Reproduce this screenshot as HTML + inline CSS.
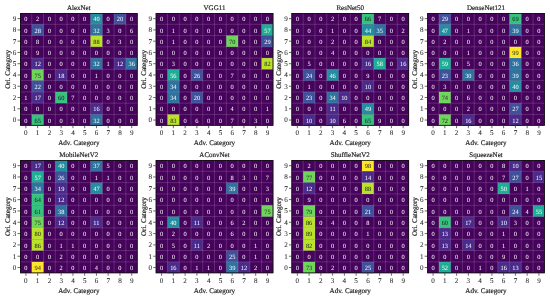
<!DOCTYPE html>
<html><head><meta charset="utf-8"><style>
html,body{margin:0;padding:0;background:#fff;overflow:hidden;}
svg{display:block;will-change:transform;text-rendering:geometricPrecision;font-family:"Liberation Serif",serif;}
</style></head><body>
<svg width="550" height="299" viewBox="0 0 550 299">
<rect width="550" height="299" fill="#fff"/>
<g><rect x="20" y="13" width="117.6" height="112.7" fill="#46035b"/>
<rect x="90.56" y="13" width="11.76" height="11.27" fill="#238e9e"/>
<rect x="114.08" y="13" width="11.76" height="11.27" fill="#3f519a"/>
<rect x="31.76" y="24.27" width="11.76" height="11.27" fill="#3f519a"/>
<rect x="90.56" y="24.27" width="11.76" height="11.27" fill="#2e729e"/>
<rect x="90.56" y="35.54" width="11.76" height="11.27" fill="#bae22a"/>
<rect x="31.76" y="58.08" width="11.76" height="11.27" fill="#4a2a8a"/>
<rect x="90.56" y="58.08" width="11.76" height="11.27" fill="#2e729e"/>
<rect x="114.08" y="58.08" width="11.76" height="11.27" fill="#4a2a8a"/>
<rect x="125.84" y="58.08" width="11.76" height="11.27" fill="#2e729e"/>
<rect x="31.76" y="69.35" width="11.76" height="11.27" fill="#6dd65a"/>
<rect x="55.28" y="69.35" width="11.76" height="11.27" fill="#4a2a8a"/>
<rect x="31.76" y="80.62" width="11.76" height="11.27" fill="#3f519a"/>
<rect x="31.76" y="91.89" width="11.76" height="11.27" fill="#4a2a8a"/>
<rect x="55.28" y="91.89" width="11.76" height="11.27" fill="#34c27d"/>
<rect x="90.56" y="103.16" width="11.76" height="11.27" fill="#4a2a8a"/>
<rect x="31.76" y="114.43" width="11.76" height="11.27" fill="#34c27d"/>
<rect x="90.56" y="114.43" width="11.76" height="11.27" fill="#2e729e"/></g>
<g stroke="rgba(255,255,255,0.2)" stroke-width="0.75"><line x1="31.76" y1="13" x2="31.76" y2="125.7"/>
<line x1="20" y1="24.27" x2="137.6" y2="24.27"/>
<line x1="43.52" y1="13" x2="43.52" y2="125.7"/>
<line x1="20" y1="35.54" x2="137.6" y2="35.54"/>
<line x1="55.28" y1="13" x2="55.28" y2="125.7"/>
<line x1="20" y1="46.81" x2="137.6" y2="46.81"/>
<line x1="67.04" y1="13" x2="67.04" y2="125.7"/>
<line x1="20" y1="58.08" x2="137.6" y2="58.08"/>
<line x1="78.8" y1="13" x2="78.8" y2="125.7"/>
<line x1="20" y1="69.35" x2="137.6" y2="69.35"/>
<line x1="90.56" y1="13" x2="90.56" y2="125.7"/>
<line x1="20" y1="80.62" x2="137.6" y2="80.62"/>
<line x1="102.32" y1="13" x2="102.32" y2="125.7"/>
<line x1="20" y1="91.89" x2="137.6" y2="91.89"/>
<line x1="114.08" y1="13" x2="114.08" y2="125.7"/>
<line x1="20" y1="103.16" x2="137.6" y2="103.16"/>
<line x1="125.84" y1="13" x2="125.84" y2="125.7"/>
<line x1="20" y1="114.43" x2="137.6" y2="114.43"/></g>
<rect x="20.4" y="13.4" width="116.8" height="111.9" fill="none" stroke="#111" stroke-width="0.8"/>
<g font-size="6.4" text-anchor="middle"><text x="25.88" y="21.31" fill="#fff">0</text><text x="37.64" y="21.31" fill="#fff">2</text><text x="49.4" y="21.31" fill="#fff">0</text><text x="61.16" y="21.31" fill="#fff">0</text><text x="72.92" y="21.31" fill="#fff">0</text><text x="84.68" y="21.31" fill="#fff">0</text><text x="96.44" y="21.31" fill="#fff">40</text><text x="108.2" y="21.31" fill="#fff">0</text><text x="119.96" y="21.31" fill="#fff">20</text><text x="131.72" y="21.31" fill="#fff">0</text><text x="25.88" y="32.58" fill="#fff">0</text><text x="37.64" y="32.58" fill="#fff">28</text><text x="49.4" y="32.58" fill="#fff">0</text><text x="61.16" y="32.58" fill="#fff">0</text><text x="72.92" y="32.58" fill="#fff">0</text><text x="84.68" y="32.58" fill="#fff">0</text><text x="96.44" y="32.58" fill="#fff">32</text><text x="108.2" y="32.58" fill="#fff">3</text><text x="119.96" y="32.58" fill="#fff">0</text><text x="131.72" y="32.58" fill="#fff">6</text><text x="25.88" y="43.85" fill="#fff">0</text><text x="37.64" y="43.85" fill="#fff">8</text><text x="49.4" y="43.85" fill="#fff">0</text><text x="61.16" y="43.85" fill="#fff">0</text><text x="72.92" y="43.85" fill="#fff">0</text><text x="84.68" y="43.85" fill="#fff">0</text><text x="96.44" y="43.85" fill="#222">88</text><text x="108.2" y="43.85" fill="#fff">0</text><text x="119.96" y="43.85" fill="#fff">3</text><text x="131.72" y="43.85" fill="#fff">0</text><text x="25.88" y="55.12" fill="#fff">0</text><text x="37.64" y="55.12" fill="#fff">9</text><text x="49.4" y="55.12" fill="#fff">0</text><text x="61.16" y="55.12" fill="#fff">0</text><text x="72.92" y="55.12" fill="#fff">0</text><text x="84.68" y="55.12" fill="#fff">0</text><text x="96.44" y="55.12" fill="#fff">0</text><text x="108.2" y="55.12" fill="#fff">0</text><text x="119.96" y="55.12" fill="#fff">0</text><text x="131.72" y="55.12" fill="#fff">0</text><text x="25.88" y="66.39" fill="#fff">0</text><text x="37.64" y="66.39" fill="#fff">12</text><text x="49.4" y="66.39" fill="#fff">0</text><text x="61.16" y="66.39" fill="#fff">0</text><text x="72.92" y="66.39" fill="#fff">0</text><text x="84.68" y="66.39" fill="#fff">0</text><text x="96.44" y="66.39" fill="#fff">32</text><text x="108.2" y="66.39" fill="#fff">1</text><text x="119.96" y="66.39" fill="#fff">12</text><text x="131.72" y="66.39" fill="#fff">36</text><text x="25.88" y="77.66" fill="#fff">0</text><text x="37.64" y="77.66" fill="#222">75</text><text x="49.4" y="77.66" fill="#fff">0</text><text x="61.16" y="77.66" fill="#fff">18</text><text x="72.92" y="77.66" fill="#fff">0</text><text x="84.68" y="77.66" fill="#fff">0</text><text x="96.44" y="77.66" fill="#fff">1</text><text x="108.2" y="77.66" fill="#fff">0</text><text x="119.96" y="77.66" fill="#fff">0</text><text x="131.72" y="77.66" fill="#fff">0</text><text x="25.88" y="88.93" fill="#fff">0</text><text x="37.64" y="88.93" fill="#fff">22</text><text x="49.4" y="88.93" fill="#fff">0</text><text x="61.16" y="88.93" fill="#fff">0</text><text x="72.92" y="88.93" fill="#fff">0</text><text x="84.68" y="88.93" fill="#fff">0</text><text x="96.44" y="88.93" fill="#fff">0</text><text x="108.2" y="88.93" fill="#fff">0</text><text x="119.96" y="88.93" fill="#fff">0</text><text x="131.72" y="88.93" fill="#fff">0</text><text x="25.88" y="100.2" fill="#fff">1</text><text x="37.64" y="100.2" fill="#fff">17</text><text x="49.4" y="100.2" fill="#fff">0</text><text x="61.16" y="100.2" fill="#222">60</text><text x="72.92" y="100.2" fill="#fff">7</text><text x="84.68" y="100.2" fill="#fff">0</text><text x="96.44" y="100.2" fill="#fff">0</text><text x="108.2" y="100.2" fill="#fff">0</text><text x="119.96" y="100.2" fill="#fff">0</text><text x="131.72" y="100.2" fill="#fff">0</text><text x="25.88" y="111.47" fill="#fff">0</text><text x="37.64" y="111.47" fill="#fff">0</text><text x="49.4" y="111.47" fill="#fff">0</text><text x="61.16" y="111.47" fill="#fff">0</text><text x="72.92" y="111.47" fill="#fff">0</text><text x="84.68" y="111.47" fill="#fff">0</text><text x="96.44" y="111.47" fill="#fff">16</text><text x="108.2" y="111.47" fill="#fff">0</text><text x="119.96" y="111.47" fill="#fff">1</text><text x="131.72" y="111.47" fill="#fff">0</text><text x="25.88" y="122.74" fill="#fff">0</text><text x="37.64" y="122.74" fill="#222">65</text><text x="49.4" y="122.74" fill="#fff">0</text><text x="61.16" y="122.74" fill="#fff">0</text><text x="72.92" y="122.74" fill="#fff">3</text><text x="84.68" y="122.74" fill="#fff">0</text><text x="96.44" y="122.74" fill="#fff">32</text><text x="108.2" y="122.74" fill="#fff">0</text><text x="119.96" y="122.74" fill="#fff">0</text><text x="131.72" y="122.74" fill="#fff">0</text></g>
<g stroke="#333" stroke-width="0.75"><line x1="17.5" y1="18.63" x2="20" y2="18.63"/><line x1="25.88" y1="125.7" x2="25.88" y2="128.2"/><line x1="17.5" y1="29.91" x2="20" y2="29.91"/><line x1="37.64" y1="125.7" x2="37.64" y2="128.2"/><line x1="17.5" y1="41.17" x2="20" y2="41.17"/><line x1="49.4" y1="125.7" x2="49.4" y2="128.2"/><line x1="17.5" y1="52.45" x2="20" y2="52.45"/><line x1="61.16" y1="125.7" x2="61.16" y2="128.2"/><line x1="17.5" y1="63.71" x2="20" y2="63.71"/><line x1="72.92" y1="125.7" x2="72.92" y2="128.2"/><line x1="17.5" y1="74.98" x2="20" y2="74.98"/><line x1="84.68" y1="125.7" x2="84.68" y2="128.2"/><line x1="17.5" y1="86.25" x2="20" y2="86.25"/><line x1="96.44" y1="125.7" x2="96.44" y2="128.2"/><line x1="17.5" y1="97.52" x2="20" y2="97.52"/><line x1="108.2" y1="125.7" x2="108.2" y2="128.2"/><line x1="17.5" y1="108.8" x2="20" y2="108.8"/><line x1="119.96" y1="125.7" x2="119.96" y2="128.2"/><line x1="17.5" y1="120.06" x2="20" y2="120.06"/><line x1="131.72" y1="125.7" x2="131.72" y2="128.2"/></g>
<g font-size="7.1" fill="#2a2a2a" stroke="#2a2a2a" stroke-width="0.06"><text x="16.4" y="20.98" text-anchor="end">9</text><text x="25.88" y="135.2" text-anchor="middle">0</text><text x="16.4" y="32.25" text-anchor="end">8</text><text x="37.64" y="135.2" text-anchor="middle">1</text><text x="16.4" y="43.52" text-anchor="end">7</text><text x="49.4" y="135.2" text-anchor="middle">2</text><text x="16.4" y="54.79" text-anchor="end">6</text><text x="61.16" y="135.2" text-anchor="middle">3</text><text x="16.4" y="66.06" text-anchor="end">5</text><text x="72.92" y="135.2" text-anchor="middle">4</text><text x="16.4" y="77.33" text-anchor="end">4</text><text x="84.68" y="135.2" text-anchor="middle">5</text><text x="16.4" y="88.6" text-anchor="end">3</text><text x="96.44" y="135.2" text-anchor="middle">6</text><text x="16.4" y="99.87" text-anchor="end">2</text><text x="108.2" y="135.2" text-anchor="middle">7</text><text x="16.4" y="111.14" text-anchor="end">1</text><text x="119.96" y="135.2" text-anchor="middle">8</text><text x="16.4" y="122.41" text-anchor="end">0</text><text x="131.72" y="135.2" text-anchor="middle">9</text></g>
<g font-size="7.1" fill="#222" stroke="#222" stroke-width="0.18"><text x="78.8" y="145.1" text-anchor="middle">Adv. Category</text><text transform="translate(9.8,69.35) rotate(-90)" text-anchor="middle">Ori. Category</text><text x="78.8" y="9.7" text-anchor="middle" font-size="7.0">AlexNet</text></g>
<g><rect x="155.73" y="13" width="117.6" height="112.7" fill="#46035b"/>
<rect x="261.57" y="24.27" width="11.76" height="11.27" fill="#1eae95"/>
<rect x="226.29" y="35.54" width="11.76" height="11.27" fill="#6dd65a"/>
<rect x="261.57" y="35.54" width="11.76" height="11.27" fill="#3f519a"/>
<rect x="261.57" y="58.08" width="11.76" height="11.27" fill="#bae22a"/>
<rect x="167.49" y="69.35" width="11.76" height="11.27" fill="#1eae95"/>
<rect x="191.01" y="69.35" width="11.76" height="11.27" fill="#3f519a"/>
<rect x="167.49" y="80.62" width="11.76" height="11.27" fill="#2e729e"/>
<rect x="167.49" y="91.89" width="11.76" height="11.27" fill="#2e729e"/>
<rect x="191.01" y="91.89" width="11.76" height="11.27" fill="#3f519a"/>
<rect x="167.49" y="114.43" width="11.76" height="11.27" fill="#bae22a"/></g>
<g stroke="rgba(255,255,255,0.2)" stroke-width="0.75"><line x1="167.49" y1="13" x2="167.49" y2="125.7"/>
<line x1="155.73" y1="24.27" x2="273.33" y2="24.27"/>
<line x1="179.25" y1="13" x2="179.25" y2="125.7"/>
<line x1="155.73" y1="35.54" x2="273.33" y2="35.54"/>
<line x1="191.01" y1="13" x2="191.01" y2="125.7"/>
<line x1="155.73" y1="46.81" x2="273.33" y2="46.81"/>
<line x1="202.77" y1="13" x2="202.77" y2="125.7"/>
<line x1="155.73" y1="58.08" x2="273.33" y2="58.08"/>
<line x1="214.53" y1="13" x2="214.53" y2="125.7"/>
<line x1="155.73" y1="69.35" x2="273.33" y2="69.35"/>
<line x1="226.29" y1="13" x2="226.29" y2="125.7"/>
<line x1="155.73" y1="80.62" x2="273.33" y2="80.62"/>
<line x1="238.05" y1="13" x2="238.05" y2="125.7"/>
<line x1="155.73" y1="91.89" x2="273.33" y2="91.89"/>
<line x1="249.81" y1="13" x2="249.81" y2="125.7"/>
<line x1="155.73" y1="103.16" x2="273.33" y2="103.16"/>
<line x1="261.57" y1="13" x2="261.57" y2="125.7"/>
<line x1="155.73" y1="114.43" x2="273.33" y2="114.43"/></g>
<rect x="156.13" y="13.4" width="116.8" height="111.9" fill="none" stroke="#111" stroke-width="0.8"/>
<g font-size="6.4" text-anchor="middle"><text x="161.61" y="21.31" fill="#fff">0</text><text x="173.37" y="21.31" fill="#fff">0</text><text x="185.13" y="21.31" fill="#fff">0</text><text x="196.89" y="21.31" fill="#fff">0</text><text x="208.65" y="21.31" fill="#fff">0</text><text x="220.41" y="21.31" fill="#fff">0</text><text x="232.17" y="21.31" fill="#fff">0</text><text x="243.93" y="21.31" fill="#fff">0</text><text x="255.69" y="21.31" fill="#fff">0</text><text x="267.45" y="21.31" fill="#fff">0</text><text x="161.61" y="32.58" fill="#fff">0</text><text x="173.37" y="32.58" fill="#fff">1</text><text x="185.13" y="32.58" fill="#fff">0</text><text x="196.89" y="32.58" fill="#fff">0</text><text x="208.65" y="32.58" fill="#fff">0</text><text x="220.41" y="32.58" fill="#fff">0</text><text x="232.17" y="32.58" fill="#fff">0</text><text x="243.93" y="32.58" fill="#fff">0</text><text x="255.69" y="32.58" fill="#fff">0</text><text x="267.45" y="32.58" fill="#fff">57</text><text x="161.61" y="43.85" fill="#fff">0</text><text x="173.37" y="43.85" fill="#fff">1</text><text x="185.13" y="43.85" fill="#fff">0</text><text x="196.89" y="43.85" fill="#fff">0</text><text x="208.65" y="43.85" fill="#fff">0</text><text x="220.41" y="43.85" fill="#fff">0</text><text x="232.17" y="43.85" fill="#222">70</text><text x="243.93" y="43.85" fill="#fff">0</text><text x="255.69" y="43.85" fill="#fff">0</text><text x="267.45" y="43.85" fill="#fff">29</text><text x="161.61" y="55.12" fill="#fff">0</text><text x="173.37" y="55.12" fill="#fff">0</text><text x="185.13" y="55.12" fill="#fff">0</text><text x="196.89" y="55.12" fill="#fff">0</text><text x="208.65" y="55.12" fill="#fff">0</text><text x="220.41" y="55.12" fill="#fff">0</text><text x="232.17" y="55.12" fill="#fff">0</text><text x="243.93" y="55.12" fill="#fff">0</text><text x="255.69" y="55.12" fill="#fff">0</text><text x="267.45" y="55.12" fill="#fff">0</text><text x="161.61" y="66.39" fill="#fff">0</text><text x="173.37" y="66.39" fill="#fff">3</text><text x="185.13" y="66.39" fill="#fff">0</text><text x="196.89" y="66.39" fill="#fff">0</text><text x="208.65" y="66.39" fill="#fff">0</text><text x="220.41" y="66.39" fill="#fff">0</text><text x="232.17" y="66.39" fill="#fff">0</text><text x="243.93" y="66.39" fill="#fff">0</text><text x="255.69" y="66.39" fill="#fff">0</text><text x="267.45" y="66.39" fill="#222">82</text><text x="161.61" y="77.66" fill="#fff">0</text><text x="173.37" y="77.66" fill="#fff">56</text><text x="185.13" y="77.66" fill="#fff">0</text><text x="196.89" y="77.66" fill="#fff">26</text><text x="208.65" y="77.66" fill="#fff">0</text><text x="220.41" y="77.66" fill="#fff">0</text><text x="232.17" y="77.66" fill="#fff">7</text><text x="243.93" y="77.66" fill="#fff">0</text><text x="255.69" y="77.66" fill="#fff">0</text><text x="267.45" y="77.66" fill="#fff">0</text><text x="161.61" y="88.93" fill="#fff">0</text><text x="173.37" y="88.93" fill="#fff">34</text><text x="185.13" y="88.93" fill="#fff">0</text><text x="196.89" y="88.93" fill="#fff">0</text><text x="208.65" y="88.93" fill="#fff">0</text><text x="220.41" y="88.93" fill="#fff">0</text><text x="232.17" y="88.93" fill="#fff">0</text><text x="243.93" y="88.93" fill="#fff">0</text><text x="255.69" y="88.93" fill="#fff">0</text><text x="267.45" y="88.93" fill="#fff">0</text><text x="161.61" y="100.2" fill="#fff">0</text><text x="173.37" y="100.2" fill="#fff">34</text><text x="185.13" y="100.2" fill="#fff">0</text><text x="196.89" y="100.2" fill="#fff">20</text><text x="208.65" y="100.2" fill="#fff">0</text><text x="220.41" y="100.2" fill="#fff">0</text><text x="232.17" y="100.2" fill="#fff">0</text><text x="243.93" y="100.2" fill="#fff">0</text><text x="255.69" y="100.2" fill="#fff">0</text><text x="267.45" y="100.2" fill="#fff">0</text><text x="161.61" y="111.47" fill="#fff">0</text><text x="173.37" y="111.47" fill="#fff">0</text><text x="185.13" y="111.47" fill="#fff">0</text><text x="196.89" y="111.47" fill="#fff">0</text><text x="208.65" y="111.47" fill="#fff">0</text><text x="220.41" y="111.47" fill="#fff">0</text><text x="232.17" y="111.47" fill="#fff">4</text><text x="243.93" y="111.47" fill="#fff">0</text><text x="255.69" y="111.47" fill="#fff">0</text><text x="267.45" y="111.47" fill="#fff">1</text><text x="161.61" y="122.74" fill="#fff">0</text><text x="173.37" y="122.74" fill="#222">83</text><text x="185.13" y="122.74" fill="#fff">0</text><text x="196.89" y="122.74" fill="#fff">6</text><text x="208.65" y="122.74" fill="#fff">0</text><text x="220.41" y="122.74" fill="#fff">0</text><text x="232.17" y="122.74" fill="#fff">7</text><text x="243.93" y="122.74" fill="#fff">0</text><text x="255.69" y="122.74" fill="#fff">3</text><text x="267.45" y="122.74" fill="#fff">0</text></g>
<g stroke="#333" stroke-width="0.75"><line x1="153.23" y1="18.63" x2="155.73" y2="18.63"/><line x1="161.61" y1="125.7" x2="161.61" y2="128.2"/><line x1="153.23" y1="29.91" x2="155.73" y2="29.91"/><line x1="173.37" y1="125.7" x2="173.37" y2="128.2"/><line x1="153.23" y1="41.17" x2="155.73" y2="41.17"/><line x1="185.13" y1="125.7" x2="185.13" y2="128.2"/><line x1="153.23" y1="52.45" x2="155.73" y2="52.45"/><line x1="196.89" y1="125.7" x2="196.89" y2="128.2"/><line x1="153.23" y1="63.71" x2="155.73" y2="63.71"/><line x1="208.65" y1="125.7" x2="208.65" y2="128.2"/><line x1="153.23" y1="74.98" x2="155.73" y2="74.98"/><line x1="220.41" y1="125.7" x2="220.41" y2="128.2"/><line x1="153.23" y1="86.25" x2="155.73" y2="86.25"/><line x1="232.17" y1="125.7" x2="232.17" y2="128.2"/><line x1="153.23" y1="97.52" x2="155.73" y2="97.52"/><line x1="243.93" y1="125.7" x2="243.93" y2="128.2"/><line x1="153.23" y1="108.8" x2="155.73" y2="108.8"/><line x1="255.69" y1="125.7" x2="255.69" y2="128.2"/><line x1="153.23" y1="120.06" x2="155.73" y2="120.06"/><line x1="267.45" y1="125.7" x2="267.45" y2="128.2"/></g>
<g font-size="7.1" fill="#2a2a2a" stroke="#2a2a2a" stroke-width="0.06"><text x="152.13" y="20.98" text-anchor="end">9</text><text x="161.61" y="135.2" text-anchor="middle">0</text><text x="152.13" y="32.25" text-anchor="end">8</text><text x="173.37" y="135.2" text-anchor="middle">1</text><text x="152.13" y="43.52" text-anchor="end">7</text><text x="185.13" y="135.2" text-anchor="middle">2</text><text x="152.13" y="54.79" text-anchor="end">6</text><text x="196.89" y="135.2" text-anchor="middle">3</text><text x="152.13" y="66.06" text-anchor="end">5</text><text x="208.65" y="135.2" text-anchor="middle">4</text><text x="152.13" y="77.33" text-anchor="end">4</text><text x="220.41" y="135.2" text-anchor="middle">5</text><text x="152.13" y="88.6" text-anchor="end">3</text><text x="232.17" y="135.2" text-anchor="middle">6</text><text x="152.13" y="99.87" text-anchor="end">2</text><text x="243.93" y="135.2" text-anchor="middle">7</text><text x="152.13" y="111.14" text-anchor="end">1</text><text x="255.69" y="135.2" text-anchor="middle">8</text><text x="152.13" y="122.41" text-anchor="end">0</text><text x="267.45" y="135.2" text-anchor="middle">9</text></g>
<g font-size="7.1" fill="#222" stroke="#222" stroke-width="0.18"><text x="214.53" y="145.1" text-anchor="middle">Adv. Category</text><text transform="translate(145.53,69.35) rotate(-90)" text-anchor="middle">Ori. Category</text><text x="214.53" y="9.7" text-anchor="middle" font-size="7.0">VGG11</text></g>
<g><rect x="291.46" y="13" width="117.6" height="112.7" fill="#46035b"/>
<rect x="362.02" y="13" width="11.76" height="11.27" fill="#34c27d"/>
<rect x="362.02" y="24.27" width="11.76" height="11.27" fill="#238e9e"/>
<rect x="373.78" y="24.27" width="11.76" height="11.27" fill="#2e729e"/>
<rect x="362.02" y="35.54" width="11.76" height="11.27" fill="#bae22a"/>
<rect x="362.02" y="58.08" width="11.76" height="11.27" fill="#4a2a8a"/>
<rect x="373.78" y="58.08" width="11.76" height="11.27" fill="#1eae95"/>
<rect x="397.3" y="58.08" width="11.76" height="11.27" fill="#4a2a8a"/>
<rect x="303.22" y="69.35" width="11.76" height="11.27" fill="#3f519a"/>
<rect x="326.74" y="69.35" width="11.76" height="11.27" fill="#238e9e"/>
<rect x="362.02" y="80.62" width="11.76" height="11.27" fill="#4a2a8a"/>
<rect x="303.22" y="91.89" width="11.76" height="11.27" fill="#3f519a"/>
<rect x="326.74" y="91.89" width="11.76" height="11.27" fill="#2e729e"/>
<rect x="338.5" y="91.89" width="11.76" height="11.27" fill="#4a2a8a"/>
<rect x="326.74" y="103.16" width="11.76" height="11.27" fill="#4a2a8a"/>
<rect x="362.02" y="103.16" width="11.76" height="11.27" fill="#238e9e"/>
<rect x="303.22" y="114.43" width="11.76" height="11.27" fill="#4a2a8a"/>
<rect x="326.74" y="114.43" width="11.76" height="11.27" fill="#4a2a8a"/>
<rect x="362.02" y="114.43" width="11.76" height="11.27" fill="#34c27d"/></g>
<g stroke="rgba(255,255,255,0.2)" stroke-width="0.75"><line x1="303.22" y1="13" x2="303.22" y2="125.7"/>
<line x1="291.46" y1="24.27" x2="409.06" y2="24.27"/>
<line x1="314.98" y1="13" x2="314.98" y2="125.7"/>
<line x1="291.46" y1="35.54" x2="409.06" y2="35.54"/>
<line x1="326.74" y1="13" x2="326.74" y2="125.7"/>
<line x1="291.46" y1="46.81" x2="409.06" y2="46.81"/>
<line x1="338.5" y1="13" x2="338.5" y2="125.7"/>
<line x1="291.46" y1="58.08" x2="409.06" y2="58.08"/>
<line x1="350.26" y1="13" x2="350.26" y2="125.7"/>
<line x1="291.46" y1="69.35" x2="409.06" y2="69.35"/>
<line x1="362.02" y1="13" x2="362.02" y2="125.7"/>
<line x1="291.46" y1="80.62" x2="409.06" y2="80.62"/>
<line x1="373.78" y1="13" x2="373.78" y2="125.7"/>
<line x1="291.46" y1="91.89" x2="409.06" y2="91.89"/>
<line x1="385.54" y1="13" x2="385.54" y2="125.7"/>
<line x1="291.46" y1="103.16" x2="409.06" y2="103.16"/>
<line x1="397.3" y1="13" x2="397.3" y2="125.7"/>
<line x1="291.46" y1="114.43" x2="409.06" y2="114.43"/></g>
<rect x="291.86" y="13.4" width="116.8" height="111.9" fill="none" stroke="#111" stroke-width="0.8"/>
<g font-size="6.4" text-anchor="middle"><text x="297.34" y="21.31" fill="#fff">0</text><text x="309.1" y="21.31" fill="#fff">0</text><text x="320.86" y="21.31" fill="#fff">0</text><text x="332.62" y="21.31" fill="#fff">2</text><text x="344.38" y="21.31" fill="#fff">0</text><text x="356.14" y="21.31" fill="#fff">0</text><text x="367.9" y="21.31" fill="#222">66</text><text x="379.66" y="21.31" fill="#fff">7</text><text x="391.42" y="21.31" fill="#fff">0</text><text x="403.18" y="21.31" fill="#fff">0</text><text x="297.34" y="32.58" fill="#fff">0</text><text x="309.1" y="32.58" fill="#fff">0</text><text x="320.86" y="32.58" fill="#fff">0</text><text x="332.62" y="32.58" fill="#fff">1</text><text x="344.38" y="32.58" fill="#fff">0</text><text x="356.14" y="32.58" fill="#fff">0</text><text x="367.9" y="32.58" fill="#fff">44</text><text x="379.66" y="32.58" fill="#fff">35</text><text x="391.42" y="32.58" fill="#fff">0</text><text x="403.18" y="32.58" fill="#fff">2</text><text x="297.34" y="43.85" fill="#fff">0</text><text x="309.1" y="43.85" fill="#fff">0</text><text x="320.86" y="43.85" fill="#fff">0</text><text x="332.62" y="43.85" fill="#fff">2</text><text x="344.38" y="43.85" fill="#fff">0</text><text x="356.14" y="43.85" fill="#fff">0</text><text x="367.9" y="43.85" fill="#222">84</text><text x="379.66" y="43.85" fill="#fff">0</text><text x="391.42" y="43.85" fill="#fff">0</text><text x="403.18" y="43.85" fill="#fff">0</text><text x="297.34" y="55.12" fill="#fff">0</text><text x="309.1" y="55.12" fill="#fff">0</text><text x="320.86" y="55.12" fill="#fff">0</text><text x="332.62" y="55.12" fill="#fff">4</text><text x="344.38" y="55.12" fill="#fff">0</text><text x="356.14" y="55.12" fill="#fff">0</text><text x="367.9" y="55.12" fill="#fff">0</text><text x="379.66" y="55.12" fill="#fff">0</text><text x="391.42" y="55.12" fill="#fff">0</text><text x="403.18" y="55.12" fill="#fff">0</text><text x="297.34" y="66.39" fill="#fff">0</text><text x="309.1" y="66.39" fill="#fff">5</text><text x="320.86" y="66.39" fill="#fff">0</text><text x="332.62" y="66.39" fill="#fff">0</text><text x="344.38" y="66.39" fill="#fff">0</text><text x="356.14" y="66.39" fill="#fff">0</text><text x="367.9" y="66.39" fill="#fff">16</text><text x="379.66" y="66.39" fill="#fff">58</text><text x="391.42" y="66.39" fill="#fff">0</text><text x="403.18" y="66.39" fill="#fff">16</text><text x="297.34" y="77.66" fill="#fff">0</text><text x="309.1" y="77.66" fill="#fff">24</text><text x="320.86" y="77.66" fill="#fff">0</text><text x="332.62" y="77.66" fill="#fff">46</text><text x="344.38" y="77.66" fill="#fff">0</text><text x="356.14" y="77.66" fill="#fff">0</text><text x="367.9" y="77.66" fill="#fff">9</text><text x="379.66" y="77.66" fill="#fff">0</text><text x="391.42" y="77.66" fill="#fff">0</text><text x="403.18" y="77.66" fill="#fff">0</text><text x="297.34" y="88.93" fill="#fff">0</text><text x="309.1" y="88.93" fill="#fff">1</text><text x="320.86" y="88.93" fill="#fff">0</text><text x="332.62" y="88.93" fill="#fff">0</text><text x="344.38" y="88.93" fill="#fff">0</text><text x="356.14" y="88.93" fill="#fff">0</text><text x="367.9" y="88.93" fill="#fff">10</text><text x="379.66" y="88.93" fill="#fff">0</text><text x="391.42" y="88.93" fill="#fff">0</text><text x="403.18" y="88.93" fill="#fff">0</text><text x="297.34" y="100.2" fill="#fff">0</text><text x="309.1" y="100.2" fill="#fff">23</text><text x="320.86" y="100.2" fill="#fff">0</text><text x="332.62" y="100.2" fill="#fff">34</text><text x="344.38" y="100.2" fill="#fff">10</text><text x="356.14" y="100.2" fill="#fff">0</text><text x="367.9" y="100.2" fill="#fff">0</text><text x="379.66" y="100.2" fill="#fff">0</text><text x="391.42" y="100.2" fill="#fff">0</text><text x="403.18" y="100.2" fill="#fff">0</text><text x="297.34" y="111.47" fill="#fff">0</text><text x="309.1" y="111.47" fill="#fff">0</text><text x="320.86" y="111.47" fill="#fff">0</text><text x="332.62" y="111.47" fill="#fff">11</text><text x="344.38" y="111.47" fill="#fff">0</text><text x="356.14" y="111.47" fill="#fff">0</text><text x="367.9" y="111.47" fill="#fff">49</text><text x="379.66" y="111.47" fill="#fff">0</text><text x="391.42" y="111.47" fill="#fff">0</text><text x="403.18" y="111.47" fill="#fff">0</text><text x="297.34" y="122.74" fill="#fff">0</text><text x="309.1" y="122.74" fill="#fff">10</text><text x="320.86" y="122.74" fill="#fff">0</text><text x="332.62" y="122.74" fill="#fff">10</text><text x="344.38" y="122.74" fill="#fff">6</text><text x="356.14" y="122.74" fill="#fff">0</text><text x="367.9" y="122.74" fill="#222">65</text><text x="379.66" y="122.74" fill="#fff">9</text><text x="391.42" y="122.74" fill="#fff">0</text><text x="403.18" y="122.74" fill="#fff">0</text></g>
<g stroke="#333" stroke-width="0.75"><line x1="288.96" y1="18.63" x2="291.46" y2="18.63"/><line x1="297.34" y1="125.7" x2="297.34" y2="128.2"/><line x1="288.96" y1="29.91" x2="291.46" y2="29.91"/><line x1="309.1" y1="125.7" x2="309.1" y2="128.2"/><line x1="288.96" y1="41.17" x2="291.46" y2="41.17"/><line x1="320.86" y1="125.7" x2="320.86" y2="128.2"/><line x1="288.96" y1="52.45" x2="291.46" y2="52.45"/><line x1="332.62" y1="125.7" x2="332.62" y2="128.2"/><line x1="288.96" y1="63.71" x2="291.46" y2="63.71"/><line x1="344.38" y1="125.7" x2="344.38" y2="128.2"/><line x1="288.96" y1="74.98" x2="291.46" y2="74.98"/><line x1="356.14" y1="125.7" x2="356.14" y2="128.2"/><line x1="288.96" y1="86.25" x2="291.46" y2="86.25"/><line x1="367.9" y1="125.7" x2="367.9" y2="128.2"/><line x1="288.96" y1="97.52" x2="291.46" y2="97.52"/><line x1="379.66" y1="125.7" x2="379.66" y2="128.2"/><line x1="288.96" y1="108.8" x2="291.46" y2="108.8"/><line x1="391.42" y1="125.7" x2="391.42" y2="128.2"/><line x1="288.96" y1="120.06" x2="291.46" y2="120.06"/><line x1="403.18" y1="125.7" x2="403.18" y2="128.2"/></g>
<g font-size="7.1" fill="#2a2a2a" stroke="#2a2a2a" stroke-width="0.06"><text x="287.86" y="20.98" text-anchor="end">9</text><text x="297.34" y="135.2" text-anchor="middle">0</text><text x="287.86" y="32.25" text-anchor="end">8</text><text x="309.1" y="135.2" text-anchor="middle">1</text><text x="287.86" y="43.52" text-anchor="end">7</text><text x="320.86" y="135.2" text-anchor="middle">2</text><text x="287.86" y="54.79" text-anchor="end">6</text><text x="332.62" y="135.2" text-anchor="middle">3</text><text x="287.86" y="66.06" text-anchor="end">5</text><text x="344.38" y="135.2" text-anchor="middle">4</text><text x="287.86" y="77.33" text-anchor="end">4</text><text x="356.14" y="135.2" text-anchor="middle">5</text><text x="287.86" y="88.6" text-anchor="end">3</text><text x="367.9" y="135.2" text-anchor="middle">6</text><text x="287.86" y="99.87" text-anchor="end">2</text><text x="379.66" y="135.2" text-anchor="middle">7</text><text x="287.86" y="111.14" text-anchor="end">1</text><text x="391.42" y="135.2" text-anchor="middle">8</text><text x="287.86" y="122.41" text-anchor="end">0</text><text x="403.18" y="135.2" text-anchor="middle">9</text></g>
<g font-size="7.1" fill="#222" stroke="#222" stroke-width="0.18"><text x="350.26" y="145.1" text-anchor="middle">Adv. Category</text><text transform="translate(281.26,69.35) rotate(-90)" text-anchor="middle">Ori. Category</text><text x="350.26" y="9.7" text-anchor="middle" font-size="7.0">ResNet50</text></g>
<g><rect x="427.2" y="13" width="117.6" height="112.7" fill="#46035b"/>
<rect x="438.96" y="13" width="11.76" height="11.27" fill="#3f519a"/>
<rect x="509.52" y="13" width="11.76" height="11.27" fill="#34c27d"/>
<rect x="438.96" y="24.27" width="11.76" height="11.27" fill="#238e9e"/>
<rect x="509.52" y="24.27" width="11.76" height="11.27" fill="#2e729e"/>
<rect x="509.52" y="46.81" width="11.76" height="11.27" fill="#fde725"/>
<rect x="438.96" y="58.08" width="11.76" height="11.27" fill="#1eae95"/>
<rect x="509.52" y="58.08" width="11.76" height="11.27" fill="#2e729e"/>
<rect x="438.96" y="69.35" width="11.76" height="11.27" fill="#3f519a"/>
<rect x="462.48" y="69.35" width="11.76" height="11.27" fill="#2e729e"/>
<rect x="509.52" y="69.35" width="11.76" height="11.27" fill="#2e729e"/>
<rect x="509.52" y="80.62" width="11.76" height="11.27" fill="#238e9e"/>
<rect x="438.96" y="91.89" width="11.76" height="11.27" fill="#6dd65a"/>
<rect x="509.52" y="103.16" width="11.76" height="11.27" fill="#3f519a"/>
<rect x="438.96" y="114.43" width="11.76" height="11.27" fill="#6dd65a"/>
<rect x="462.48" y="114.43" width="11.76" height="11.27" fill="#4a2a8a"/>
<rect x="509.52" y="114.43" width="11.76" height="11.27" fill="#4a2a8a"/></g>
<g stroke="rgba(255,255,255,0.2)" stroke-width="0.75"><line x1="438.96" y1="13" x2="438.96" y2="125.7"/>
<line x1="427.2" y1="24.27" x2="544.8" y2="24.27"/>
<line x1="450.72" y1="13" x2="450.72" y2="125.7"/>
<line x1="427.2" y1="35.54" x2="544.8" y2="35.54"/>
<line x1="462.48" y1="13" x2="462.48" y2="125.7"/>
<line x1="427.2" y1="46.81" x2="544.8" y2="46.81"/>
<line x1="474.24" y1="13" x2="474.24" y2="125.7"/>
<line x1="427.2" y1="58.08" x2="544.8" y2="58.08"/>
<line x1="486" y1="13" x2="486" y2="125.7"/>
<line x1="427.2" y1="69.35" x2="544.8" y2="69.35"/>
<line x1="497.76" y1="13" x2="497.76" y2="125.7"/>
<line x1="427.2" y1="80.62" x2="544.8" y2="80.62"/>
<line x1="509.52" y1="13" x2="509.52" y2="125.7"/>
<line x1="427.2" y1="91.89" x2="544.8" y2="91.89"/>
<line x1="521.28" y1="13" x2="521.28" y2="125.7"/>
<line x1="427.2" y1="103.16" x2="544.8" y2="103.16"/>
<line x1="533.04" y1="13" x2="533.04" y2="125.7"/>
<line x1="427.2" y1="114.43" x2="544.8" y2="114.43"/></g>
<rect x="427.6" y="13.4" width="116.8" height="111.9" fill="none" stroke="#111" stroke-width="0.8"/>
<g font-size="6.4" text-anchor="middle"><text x="433.08" y="21.31" fill="#fff">0</text><text x="444.84" y="21.31" fill="#fff">29</text><text x="456.6" y="21.31" fill="#fff">0</text><text x="468.36" y="21.31" fill="#fff">0</text><text x="480.12" y="21.31" fill="#fff">0</text><text x="491.88" y="21.31" fill="#fff">0</text><text x="503.64" y="21.31" fill="#fff">0</text><text x="515.4" y="21.31" fill="#222">69</text><text x="527.16" y="21.31" fill="#fff">0</text><text x="538.92" y="21.31" fill="#fff">0</text><text x="433.08" y="32.58" fill="#fff">0</text><text x="444.84" y="32.58" fill="#fff">47</text><text x="456.6" y="32.58" fill="#fff">0</text><text x="468.36" y="32.58" fill="#fff">1</text><text x="480.12" y="32.58" fill="#fff">0</text><text x="491.88" y="32.58" fill="#fff">0</text><text x="503.64" y="32.58" fill="#fff">0</text><text x="515.4" y="32.58" fill="#fff">39</text><text x="527.16" y="32.58" fill="#fff">0</text><text x="538.92" y="32.58" fill="#fff">0</text><text x="433.08" y="43.85" fill="#fff">0</text><text x="444.84" y="43.85" fill="#fff">2</text><text x="456.6" y="43.85" fill="#fff">0</text><text x="468.36" y="43.85" fill="#fff">0</text><text x="480.12" y="43.85" fill="#fff">0</text><text x="491.88" y="43.85" fill="#fff">0</text><text x="503.64" y="43.85" fill="#fff">0</text><text x="515.4" y="43.85" fill="#fff">0</text><text x="527.16" y="43.85" fill="#fff">0</text><text x="538.92" y="43.85" fill="#fff">0</text><text x="433.08" y="55.12" fill="#fff">0</text><text x="444.84" y="55.12" fill="#fff">0</text><text x="456.6" y="55.12" fill="#fff">0</text><text x="468.36" y="55.12" fill="#fff">1</text><text x="480.12" y="55.12" fill="#fff">0</text><text x="491.88" y="55.12" fill="#fff">0</text><text x="503.64" y="55.12" fill="#fff">0</text><text x="515.4" y="55.12" fill="#222">99</text><text x="527.16" y="55.12" fill="#fff">0</text><text x="538.92" y="55.12" fill="#fff">0</text><text x="433.08" y="66.39" fill="#fff">0</text><text x="444.84" y="66.39" fill="#fff">59</text><text x="456.6" y="66.39" fill="#fff">0</text><text x="468.36" y="66.39" fill="#fff">5</text><text x="480.12" y="66.39" fill="#fff">0</text><text x="491.88" y="66.39" fill="#fff">0</text><text x="503.64" y="66.39" fill="#fff">0</text><text x="515.4" y="66.39" fill="#fff">36</text><text x="527.16" y="66.39" fill="#fff">0</text><text x="538.92" y="66.39" fill="#fff">0</text><text x="433.08" y="77.66" fill="#fff">0</text><text x="444.84" y="77.66" fill="#fff">23</text><text x="456.6" y="77.66" fill="#fff">0</text><text x="468.36" y="77.66" fill="#fff">30</text><text x="480.12" y="77.66" fill="#fff">0</text><text x="491.88" y="77.66" fill="#fff">0</text><text x="503.64" y="77.66" fill="#fff">0</text><text x="515.4" y="77.66" fill="#fff">39</text><text x="527.16" y="77.66" fill="#fff">0</text><text x="538.92" y="77.66" fill="#fff">0</text><text x="433.08" y="88.93" fill="#fff">0</text><text x="444.84" y="88.93" fill="#fff">3</text><text x="456.6" y="88.93" fill="#fff">0</text><text x="468.36" y="88.93" fill="#fff">0</text><text x="480.12" y="88.93" fill="#fff">0</text><text x="491.88" y="88.93" fill="#fff">0</text><text x="503.64" y="88.93" fill="#fff">0</text><text x="515.4" y="88.93" fill="#fff">40</text><text x="527.16" y="88.93" fill="#fff">0</text><text x="538.92" y="88.93" fill="#fff">0</text><text x="433.08" y="100.2" fill="#fff">0</text><text x="444.84" y="100.2" fill="#222">74</text><text x="456.6" y="100.2" fill="#fff">0</text><text x="468.36" y="100.2" fill="#fff">6</text><text x="480.12" y="100.2" fill="#fff">0</text><text x="491.88" y="100.2" fill="#fff">0</text><text x="503.64" y="100.2" fill="#fff">0</text><text x="515.4" y="100.2" fill="#fff">0</text><text x="527.16" y="100.2" fill="#fff">0</text><text x="538.92" y="100.2" fill="#fff">0</text><text x="433.08" y="111.47" fill="#fff">0</text><text x="444.84" y="111.47" fill="#fff">0</text><text x="456.6" y="111.47" fill="#fff">0</text><text x="468.36" y="111.47" fill="#fff">2</text><text x="480.12" y="111.47" fill="#fff">0</text><text x="491.88" y="111.47" fill="#fff">0</text><text x="503.64" y="111.47" fill="#fff">0</text><text x="515.4" y="111.47" fill="#fff">27</text><text x="527.16" y="111.47" fill="#fff">0</text><text x="538.92" y="111.47" fill="#fff">0</text><text x="433.08" y="122.74" fill="#fff">0</text><text x="444.84" y="122.74" fill="#222">72</text><text x="456.6" y="122.74" fill="#fff">0</text><text x="468.36" y="122.74" fill="#fff">16</text><text x="480.12" y="122.74" fill="#fff">0</text><text x="491.88" y="122.74" fill="#fff">0</text><text x="503.64" y="122.74" fill="#fff">0</text><text x="515.4" y="122.74" fill="#fff">12</text><text x="527.16" y="122.74" fill="#fff">0</text><text x="538.92" y="122.74" fill="#fff">0</text></g>
<g stroke="#333" stroke-width="0.75"><line x1="424.7" y1="18.63" x2="427.2" y2="18.63"/><line x1="433.08" y1="125.7" x2="433.08" y2="128.2"/><line x1="424.7" y1="29.91" x2="427.2" y2="29.91"/><line x1="444.84" y1="125.7" x2="444.84" y2="128.2"/><line x1="424.7" y1="41.17" x2="427.2" y2="41.17"/><line x1="456.6" y1="125.7" x2="456.6" y2="128.2"/><line x1="424.7" y1="52.45" x2="427.2" y2="52.45"/><line x1="468.36" y1="125.7" x2="468.36" y2="128.2"/><line x1="424.7" y1="63.71" x2="427.2" y2="63.71"/><line x1="480.12" y1="125.7" x2="480.12" y2="128.2"/><line x1="424.7" y1="74.98" x2="427.2" y2="74.98"/><line x1="491.88" y1="125.7" x2="491.88" y2="128.2"/><line x1="424.7" y1="86.25" x2="427.2" y2="86.25"/><line x1="503.64" y1="125.7" x2="503.64" y2="128.2"/><line x1="424.7" y1="97.52" x2="427.2" y2="97.52"/><line x1="515.4" y1="125.7" x2="515.4" y2="128.2"/><line x1="424.7" y1="108.8" x2="427.2" y2="108.8"/><line x1="527.16" y1="125.7" x2="527.16" y2="128.2"/><line x1="424.7" y1="120.06" x2="427.2" y2="120.06"/><line x1="538.92" y1="125.7" x2="538.92" y2="128.2"/></g>
<g font-size="7.1" fill="#2a2a2a" stroke="#2a2a2a" stroke-width="0.06"><text x="423.6" y="20.98" text-anchor="end">9</text><text x="433.08" y="135.2" text-anchor="middle">0</text><text x="423.6" y="32.25" text-anchor="end">8</text><text x="444.84" y="135.2" text-anchor="middle">1</text><text x="423.6" y="43.52" text-anchor="end">7</text><text x="456.6" y="135.2" text-anchor="middle">2</text><text x="423.6" y="54.79" text-anchor="end">6</text><text x="468.36" y="135.2" text-anchor="middle">3</text><text x="423.6" y="66.06" text-anchor="end">5</text><text x="480.12" y="135.2" text-anchor="middle">4</text><text x="423.6" y="77.33" text-anchor="end">4</text><text x="491.88" y="135.2" text-anchor="middle">5</text><text x="423.6" y="88.6" text-anchor="end">3</text><text x="503.64" y="135.2" text-anchor="middle">6</text><text x="423.6" y="99.87" text-anchor="end">2</text><text x="515.4" y="135.2" text-anchor="middle">7</text><text x="423.6" y="111.14" text-anchor="end">1</text><text x="527.16" y="135.2" text-anchor="middle">8</text><text x="423.6" y="122.41" text-anchor="end">0</text><text x="538.92" y="135.2" text-anchor="middle">9</text></g>
<g font-size="7.1" fill="#222" stroke="#222" stroke-width="0.18"><text x="486" y="145.1" text-anchor="middle">Adv. Category</text><text transform="translate(417,69.35) rotate(-90)" text-anchor="middle">Ori. Category</text><text x="486" y="9.7" text-anchor="middle" font-size="7.0">DenseNet121</text></g>
<g><rect x="20" y="160" width="117.6" height="113.2" fill="#46035b"/>
<rect x="31.76" y="160" width="11.76" height="11.32" fill="#4a2a8a"/>
<rect x="55.28" y="160" width="11.76" height="11.32" fill="#238e9e"/>
<rect x="90.56" y="160" width="11.76" height="11.32" fill="#2e729e"/>
<rect x="31.76" y="171.32" width="11.76" height="11.32" fill="#1eae95"/>
<rect x="55.28" y="171.32" width="11.76" height="11.32" fill="#3f519a"/>
<rect x="31.76" y="182.64" width="11.76" height="11.32" fill="#2e729e"/>
<rect x="55.28" y="182.64" width="11.76" height="11.32" fill="#4a2a8a"/>
<rect x="90.56" y="182.64" width="11.76" height="11.32" fill="#238e9e"/>
<rect x="31.76" y="193.96" width="11.76" height="11.32" fill="#34c27d"/>
<rect x="55.28" y="193.96" width="11.76" height="11.32" fill="#4a2a8a"/>
<rect x="31.76" y="205.28" width="11.76" height="11.32" fill="#34c27d"/>
<rect x="55.28" y="205.28" width="11.76" height="11.32" fill="#2e729e"/>
<rect x="31.76" y="216.6" width="11.76" height="11.32" fill="#6dd65a"/>
<rect x="55.28" y="216.6" width="11.76" height="11.32" fill="#4a2a8a"/>
<rect x="90.56" y="216.6" width="11.76" height="11.32" fill="#4a2a8a"/>
<rect x="31.76" y="227.92" width="11.76" height="11.32" fill="#bae22a"/>
<rect x="31.76" y="239.24" width="11.76" height="11.32" fill="#bae22a"/>
<rect x="31.76" y="261.88" width="11.76" height="11.32" fill="#fde725"/></g>
<g stroke="rgba(255,255,255,0.2)" stroke-width="0.75"><line x1="31.76" y1="160" x2="31.76" y2="273.2"/>
<line x1="20" y1="171.32" x2="137.6" y2="171.32"/>
<line x1="43.52" y1="160" x2="43.52" y2="273.2"/>
<line x1="20" y1="182.64" x2="137.6" y2="182.64"/>
<line x1="55.28" y1="160" x2="55.28" y2="273.2"/>
<line x1="20" y1="193.96" x2="137.6" y2="193.96"/>
<line x1="67.04" y1="160" x2="67.04" y2="273.2"/>
<line x1="20" y1="205.28" x2="137.6" y2="205.28"/>
<line x1="78.8" y1="160" x2="78.8" y2="273.2"/>
<line x1="20" y1="216.6" x2="137.6" y2="216.6"/>
<line x1="90.56" y1="160" x2="90.56" y2="273.2"/>
<line x1="20" y1="227.92" x2="137.6" y2="227.92"/>
<line x1="102.32" y1="160" x2="102.32" y2="273.2"/>
<line x1="20" y1="239.24" x2="137.6" y2="239.24"/>
<line x1="114.08" y1="160" x2="114.08" y2="273.2"/>
<line x1="20" y1="250.56" x2="137.6" y2="250.56"/>
<line x1="125.84" y1="160" x2="125.84" y2="273.2"/>
<line x1="20" y1="261.88" x2="137.6" y2="261.88"/></g>
<rect x="20.4" y="160.4" width="116.8" height="112.4" fill="none" stroke="#111" stroke-width="0.8"/>
<g font-size="6.4" text-anchor="middle"><text x="25.88" y="168.34" fill="#fff">0</text><text x="37.64" y="168.34" fill="#fff">17</text><text x="49.4" y="168.34" fill="#fff">0</text><text x="61.16" y="168.34" fill="#fff">40</text><text x="72.92" y="168.34" fill="#fff">0</text><text x="84.68" y="168.34" fill="#fff">0</text><text x="96.44" y="168.34" fill="#fff">37</text><text x="108.2" y="168.34" fill="#fff">5</text><text x="119.96" y="168.34" fill="#fff">0</text><text x="131.72" y="168.34" fill="#fff">0</text><text x="25.88" y="179.66" fill="#fff">0</text><text x="37.64" y="179.66" fill="#fff">57</text><text x="49.4" y="179.66" fill="#fff">0</text><text x="61.16" y="179.66" fill="#fff">26</text><text x="72.92" y="179.66" fill="#fff">0</text><text x="84.68" y="179.66" fill="#fff">0</text><text x="96.44" y="179.66" fill="#fff">1</text><text x="108.2" y="179.66" fill="#fff">1</text><text x="119.96" y="179.66" fill="#fff">0</text><text x="131.72" y="179.66" fill="#fff">0</text><text x="25.88" y="190.98" fill="#fff">0</text><text x="37.64" y="190.98" fill="#fff">34</text><text x="49.4" y="190.98" fill="#fff">0</text><text x="61.16" y="190.98" fill="#fff">19</text><text x="72.92" y="190.98" fill="#fff">0</text><text x="84.68" y="190.98" fill="#fff">0</text><text x="96.44" y="190.98" fill="#fff">47</text><text x="108.2" y="190.98" fill="#fff">0</text><text x="119.96" y="190.98" fill="#fff">0</text><text x="131.72" y="190.98" fill="#fff">0</text><text x="25.88" y="202.3" fill="#fff">0</text><text x="37.64" y="202.3" fill="#222">64</text><text x="49.4" y="202.3" fill="#fff">0</text><text x="61.16" y="202.3" fill="#fff">12</text><text x="72.92" y="202.3" fill="#fff">0</text><text x="84.68" y="202.3" fill="#fff">0</text><text x="96.44" y="202.3" fill="#fff">0</text><text x="108.2" y="202.3" fill="#fff">0</text><text x="119.96" y="202.3" fill="#fff">0</text><text x="131.72" y="202.3" fill="#fff">0</text><text x="25.88" y="213.62" fill="#fff">0</text><text x="37.64" y="213.62" fill="#222">61</text><text x="49.4" y="213.62" fill="#fff">0</text><text x="61.16" y="213.62" fill="#fff">38</text><text x="72.92" y="213.62" fill="#fff">0</text><text x="84.68" y="213.62" fill="#fff">0</text><text x="96.44" y="213.62" fill="#fff">0</text><text x="108.2" y="213.62" fill="#fff">0</text><text x="119.96" y="213.62" fill="#fff">0</text><text x="131.72" y="213.62" fill="#fff">0</text><text x="25.88" y="224.94" fill="#fff">0</text><text x="37.64" y="224.94" fill="#222">75</text><text x="49.4" y="224.94" fill="#fff">0</text><text x="61.16" y="224.94" fill="#fff">12</text><text x="72.92" y="224.94" fill="#fff">0</text><text x="84.68" y="224.94" fill="#fff">0</text><text x="96.44" y="224.94" fill="#fff">11</text><text x="108.2" y="224.94" fill="#fff">0</text><text x="119.96" y="224.94" fill="#fff">0</text><text x="131.72" y="224.94" fill="#fff">0</text><text x="25.88" y="236.26" fill="#fff">0</text><text x="37.64" y="236.26" fill="#222">80</text><text x="49.4" y="236.26" fill="#fff">0</text><text x="61.16" y="236.26" fill="#fff">0</text><text x="72.92" y="236.26" fill="#fff">0</text><text x="84.68" y="236.26" fill="#fff">0</text><text x="96.44" y="236.26" fill="#fff">0</text><text x="108.2" y="236.26" fill="#fff">0</text><text x="119.96" y="236.26" fill="#fff">0</text><text x="131.72" y="236.26" fill="#fff">0</text><text x="25.88" y="247.58" fill="#fff">0</text><text x="37.64" y="247.58" fill="#222">86</text><text x="49.4" y="247.58" fill="#fff">0</text><text x="61.16" y="247.58" fill="#fff">1</text><text x="72.92" y="247.58" fill="#fff">1</text><text x="84.68" y="247.58" fill="#fff">0</text><text x="96.44" y="247.58" fill="#fff">0</text><text x="108.2" y="247.58" fill="#fff">0</text><text x="119.96" y="247.58" fill="#fff">0</text><text x="131.72" y="247.58" fill="#fff">0</text><text x="25.88" y="258.9" fill="#fff">0</text><text x="37.64" y="258.9" fill="#fff">0</text><text x="49.4" y="258.9" fill="#fff">0</text><text x="61.16" y="258.9" fill="#fff">2</text><text x="72.92" y="258.9" fill="#fff">0</text><text x="84.68" y="258.9" fill="#fff">0</text><text x="96.44" y="258.9" fill="#fff">0</text><text x="108.2" y="258.9" fill="#fff">0</text><text x="119.96" y="258.9" fill="#fff">0</text><text x="131.72" y="258.9" fill="#fff">0</text><text x="25.88" y="270.22" fill="#fff">0</text><text x="37.64" y="270.22" fill="#222">94</text><text x="49.4" y="270.22" fill="#fff">0</text><text x="61.16" y="270.22" fill="#fff">2</text><text x="72.92" y="270.22" fill="#fff">0</text><text x="84.68" y="270.22" fill="#fff">0</text><text x="96.44" y="270.22" fill="#fff">4</text><text x="108.2" y="270.22" fill="#fff">0</text><text x="119.96" y="270.22" fill="#fff">0</text><text x="131.72" y="270.22" fill="#fff">0</text></g>
<g stroke="#333" stroke-width="0.75"><line x1="17.5" y1="165.66" x2="20" y2="165.66"/><line x1="25.88" y1="273.2" x2="25.88" y2="275.7"/><line x1="17.5" y1="176.98" x2="20" y2="176.98"/><line x1="37.64" y1="273.2" x2="37.64" y2="275.7"/><line x1="17.5" y1="188.3" x2="20" y2="188.3"/><line x1="49.4" y1="273.2" x2="49.4" y2="275.7"/><line x1="17.5" y1="199.62" x2="20" y2="199.62"/><line x1="61.16" y1="273.2" x2="61.16" y2="275.7"/><line x1="17.5" y1="210.94" x2="20" y2="210.94"/><line x1="72.92" y1="273.2" x2="72.92" y2="275.7"/><line x1="17.5" y1="222.26" x2="20" y2="222.26"/><line x1="84.68" y1="273.2" x2="84.68" y2="275.7"/><line x1="17.5" y1="233.58" x2="20" y2="233.58"/><line x1="96.44" y1="273.2" x2="96.44" y2="275.7"/><line x1="17.5" y1="244.9" x2="20" y2="244.9"/><line x1="108.2" y1="273.2" x2="108.2" y2="275.7"/><line x1="17.5" y1="256.22" x2="20" y2="256.22"/><line x1="119.96" y1="273.2" x2="119.96" y2="275.7"/><line x1="17.5" y1="267.54" x2="20" y2="267.54"/><line x1="131.72" y1="273.2" x2="131.72" y2="275.7"/></g>
<g font-size="7.1" fill="#2a2a2a" stroke="#2a2a2a" stroke-width="0.06"><text x="16.4" y="168" text-anchor="end">9</text><text x="25.88" y="282.7" text-anchor="middle">0</text><text x="16.4" y="179.32" text-anchor="end">8</text><text x="37.64" y="282.7" text-anchor="middle">1</text><text x="16.4" y="190.64" text-anchor="end">7</text><text x="49.4" y="282.7" text-anchor="middle">2</text><text x="16.4" y="201.96" text-anchor="end">6</text><text x="61.16" y="282.7" text-anchor="middle">3</text><text x="16.4" y="213.28" text-anchor="end">5</text><text x="72.92" y="282.7" text-anchor="middle">4</text><text x="16.4" y="224.6" text-anchor="end">4</text><text x="84.68" y="282.7" text-anchor="middle">5</text><text x="16.4" y="235.92" text-anchor="end">3</text><text x="96.44" y="282.7" text-anchor="middle">6</text><text x="16.4" y="247.24" text-anchor="end">2</text><text x="108.2" y="282.7" text-anchor="middle">7</text><text x="16.4" y="258.56" text-anchor="end">1</text><text x="119.96" y="282.7" text-anchor="middle">8</text><text x="16.4" y="269.88" text-anchor="end">0</text><text x="131.72" y="282.7" text-anchor="middle">9</text></g>
<g font-size="7.1" fill="#222" stroke="#222" stroke-width="0.18"><text x="78.8" y="292.6" text-anchor="middle">Adv. Category</text><text transform="translate(9.8,216.6) rotate(-90)" text-anchor="middle">Ori. Category</text><text x="78.8" y="156.7" text-anchor="middle" font-size="7.0">MobileNetV2</text></g>
<g><rect x="155.73" y="160" width="117.6" height="113.2" fill="#46035b"/>
<rect x="226.29" y="182.64" width="11.76" height="11.32" fill="#2e729e"/>
<rect x="261.57" y="205.28" width="11.76" height="11.32" fill="#6dd65a"/>
<rect x="167.49" y="216.6" width="11.76" height="11.32" fill="#238e9e"/>
<rect x="191.01" y="216.6" width="11.76" height="11.32" fill="#4a2a8a"/>
<rect x="191.01" y="239.24" width="11.76" height="11.32" fill="#4a2a8a"/>
<rect x="226.29" y="250.56" width="11.76" height="11.32" fill="#3f519a"/>
<rect x="167.49" y="261.88" width="11.76" height="11.32" fill="#4a2a8a"/>
<rect x="226.29" y="261.88" width="11.76" height="11.32" fill="#2e729e"/>
<rect x="238.05" y="261.88" width="11.76" height="11.32" fill="#4a2a8a"/></g>
<g stroke="rgba(255,255,255,0.2)" stroke-width="0.75"><line x1="167.49" y1="160" x2="167.49" y2="273.2"/>
<line x1="155.73" y1="171.32" x2="273.33" y2="171.32"/>
<line x1="179.25" y1="160" x2="179.25" y2="273.2"/>
<line x1="155.73" y1="182.64" x2="273.33" y2="182.64"/>
<line x1="191.01" y1="160" x2="191.01" y2="273.2"/>
<line x1="155.73" y1="193.96" x2="273.33" y2="193.96"/>
<line x1="202.77" y1="160" x2="202.77" y2="273.2"/>
<line x1="155.73" y1="205.28" x2="273.33" y2="205.28"/>
<line x1="214.53" y1="160" x2="214.53" y2="273.2"/>
<line x1="155.73" y1="216.6" x2="273.33" y2="216.6"/>
<line x1="226.29" y1="160" x2="226.29" y2="273.2"/>
<line x1="155.73" y1="227.92" x2="273.33" y2="227.92"/>
<line x1="238.05" y1="160" x2="238.05" y2="273.2"/>
<line x1="155.73" y1="239.24" x2="273.33" y2="239.24"/>
<line x1="249.81" y1="160" x2="249.81" y2="273.2"/>
<line x1="155.73" y1="250.56" x2="273.33" y2="250.56"/>
<line x1="261.57" y1="160" x2="261.57" y2="273.2"/>
<line x1="155.73" y1="261.88" x2="273.33" y2="261.88"/></g>
<rect x="156.13" y="160.4" width="116.8" height="112.4" fill="none" stroke="#111" stroke-width="0.8"/>
<g font-size="6.4" text-anchor="middle"><text x="161.61" y="168.34" fill="#fff">0</text><text x="173.37" y="168.34" fill="#fff">0</text><text x="185.13" y="168.34" fill="#fff">0</text><text x="196.89" y="168.34" fill="#fff">0</text><text x="208.65" y="168.34" fill="#fff">0</text><text x="220.41" y="168.34" fill="#fff">0</text><text x="232.17" y="168.34" fill="#fff">0</text><text x="243.93" y="168.34" fill="#fff">0</text><text x="255.69" y="168.34" fill="#fff">0</text><text x="267.45" y="168.34" fill="#fff">0</text><text x="161.61" y="179.66" fill="#fff">0</text><text x="173.37" y="179.66" fill="#fff">0</text><text x="185.13" y="179.66" fill="#fff">0</text><text x="196.89" y="179.66" fill="#fff">0</text><text x="208.65" y="179.66" fill="#fff">0</text><text x="220.41" y="179.66" fill="#fff">0</text><text x="232.17" y="179.66" fill="#fff">8</text><text x="243.93" y="179.66" fill="#fff">3</text><text x="255.69" y="179.66" fill="#fff">0</text><text x="267.45" y="179.66" fill="#fff">7</text><text x="161.61" y="190.98" fill="#fff">0</text><text x="173.37" y="190.98" fill="#fff">0</text><text x="185.13" y="190.98" fill="#fff">0</text><text x="196.89" y="190.98" fill="#fff">0</text><text x="208.65" y="190.98" fill="#fff">0</text><text x="220.41" y="190.98" fill="#fff">0</text><text x="232.17" y="190.98" fill="#fff">39</text><text x="243.93" y="190.98" fill="#fff">0</text><text x="255.69" y="190.98" fill="#fff">0</text><text x="267.45" y="190.98" fill="#fff">3</text><text x="161.61" y="202.3" fill="#fff">0</text><text x="173.37" y="202.3" fill="#fff">0</text><text x="185.13" y="202.3" fill="#fff">0</text><text x="196.89" y="202.3" fill="#fff">0</text><text x="208.65" y="202.3" fill="#fff">0</text><text x="220.41" y="202.3" fill="#fff">0</text><text x="232.17" y="202.3" fill="#fff">0</text><text x="243.93" y="202.3" fill="#fff">0</text><text x="255.69" y="202.3" fill="#fff">0</text><text x="267.45" y="202.3" fill="#fff">0</text><text x="161.61" y="213.62" fill="#fff">0</text><text x="173.37" y="213.62" fill="#fff">0</text><text x="185.13" y="213.62" fill="#fff">0</text><text x="196.89" y="213.62" fill="#fff">0</text><text x="208.65" y="213.62" fill="#fff">0</text><text x="220.41" y="213.62" fill="#fff">0</text><text x="232.17" y="213.62" fill="#fff">0</text><text x="243.93" y="213.62" fill="#fff">0</text><text x="255.69" y="213.62" fill="#fff">0</text><text x="267.45" y="213.62" fill="#222">75</text><text x="161.61" y="224.94" fill="#fff">0</text><text x="173.37" y="224.94" fill="#fff">40</text><text x="185.13" y="224.94" fill="#fff">0</text><text x="196.89" y="224.94" fill="#fff">11</text><text x="208.65" y="224.94" fill="#fff">0</text><text x="220.41" y="224.94" fill="#fff">0</text><text x="232.17" y="224.94" fill="#fff">6</text><text x="243.93" y="224.94" fill="#fff">2</text><text x="255.69" y="224.94" fill="#fff">0</text><text x="267.45" y="224.94" fill="#fff">0</text><text x="161.61" y="236.26" fill="#fff">0</text><text x="173.37" y="236.26" fill="#fff">2</text><text x="185.13" y="236.26" fill="#fff">0</text><text x="196.89" y="236.26" fill="#fff">0</text><text x="208.65" y="236.26" fill="#fff">0</text><text x="220.41" y="236.26" fill="#fff">0</text><text x="232.17" y="236.26" fill="#fff">6</text><text x="243.93" y="236.26" fill="#fff">0</text><text x="255.69" y="236.26" fill="#fff">0</text><text x="267.45" y="236.26" fill="#fff">0</text><text x="161.61" y="247.58" fill="#fff">0</text><text x="173.37" y="247.58" fill="#fff">5</text><text x="185.13" y="247.58" fill="#fff">0</text><text x="196.89" y="247.58" fill="#fff">11</text><text x="208.65" y="247.58" fill="#fff">2</text><text x="220.41" y="247.58" fill="#fff">0</text><text x="232.17" y="247.58" fill="#fff">0</text><text x="243.93" y="247.58" fill="#fff">0</text><text x="255.69" y="247.58" fill="#fff">1</text><text x="267.45" y="247.58" fill="#fff">0</text><text x="161.61" y="258.9" fill="#fff">0</text><text x="173.37" y="258.9" fill="#fff">0</text><text x="185.13" y="258.9" fill="#fff">0</text><text x="196.89" y="258.9" fill="#fff">0</text><text x="208.65" y="258.9" fill="#fff">0</text><text x="220.41" y="258.9" fill="#fff">0</text><text x="232.17" y="258.9" fill="#fff">25</text><text x="243.93" y="258.9" fill="#fff">0</text><text x="255.69" y="258.9" fill="#fff">1</text><text x="267.45" y="258.9" fill="#fff">0</text><text x="161.61" y="270.22" fill="#fff">0</text><text x="173.37" y="270.22" fill="#fff">16</text><text x="185.13" y="270.22" fill="#fff">0</text><text x="196.89" y="270.22" fill="#fff">1</text><text x="208.65" y="270.22" fill="#fff">1</text><text x="220.41" y="270.22" fill="#fff">0</text><text x="232.17" y="270.22" fill="#fff">39</text><text x="243.93" y="270.22" fill="#fff">12</text><text x="255.69" y="270.22" fill="#fff">2</text><text x="267.45" y="270.22" fill="#fff">0</text></g>
<g stroke="#333" stroke-width="0.75"><line x1="153.23" y1="165.66" x2="155.73" y2="165.66"/><line x1="161.61" y1="273.2" x2="161.61" y2="275.7"/><line x1="153.23" y1="176.98" x2="155.73" y2="176.98"/><line x1="173.37" y1="273.2" x2="173.37" y2="275.7"/><line x1="153.23" y1="188.3" x2="155.73" y2="188.3"/><line x1="185.13" y1="273.2" x2="185.13" y2="275.7"/><line x1="153.23" y1="199.62" x2="155.73" y2="199.62"/><line x1="196.89" y1="273.2" x2="196.89" y2="275.7"/><line x1="153.23" y1="210.94" x2="155.73" y2="210.94"/><line x1="208.65" y1="273.2" x2="208.65" y2="275.7"/><line x1="153.23" y1="222.26" x2="155.73" y2="222.26"/><line x1="220.41" y1="273.2" x2="220.41" y2="275.7"/><line x1="153.23" y1="233.58" x2="155.73" y2="233.58"/><line x1="232.17" y1="273.2" x2="232.17" y2="275.7"/><line x1="153.23" y1="244.9" x2="155.73" y2="244.9"/><line x1="243.93" y1="273.2" x2="243.93" y2="275.7"/><line x1="153.23" y1="256.22" x2="155.73" y2="256.22"/><line x1="255.69" y1="273.2" x2="255.69" y2="275.7"/><line x1="153.23" y1="267.54" x2="155.73" y2="267.54"/><line x1="267.45" y1="273.2" x2="267.45" y2="275.7"/></g>
<g font-size="7.1" fill="#2a2a2a" stroke="#2a2a2a" stroke-width="0.06"><text x="152.13" y="168" text-anchor="end">9</text><text x="161.61" y="282.7" text-anchor="middle">0</text><text x="152.13" y="179.32" text-anchor="end">8</text><text x="173.37" y="282.7" text-anchor="middle">1</text><text x="152.13" y="190.64" text-anchor="end">7</text><text x="185.13" y="282.7" text-anchor="middle">2</text><text x="152.13" y="201.96" text-anchor="end">6</text><text x="196.89" y="282.7" text-anchor="middle">3</text><text x="152.13" y="213.28" text-anchor="end">5</text><text x="208.65" y="282.7" text-anchor="middle">4</text><text x="152.13" y="224.6" text-anchor="end">4</text><text x="220.41" y="282.7" text-anchor="middle">5</text><text x="152.13" y="235.92" text-anchor="end">3</text><text x="232.17" y="282.7" text-anchor="middle">6</text><text x="152.13" y="247.24" text-anchor="end">2</text><text x="243.93" y="282.7" text-anchor="middle">7</text><text x="152.13" y="258.56" text-anchor="end">1</text><text x="255.69" y="282.7" text-anchor="middle">8</text><text x="152.13" y="269.88" text-anchor="end">0</text><text x="267.45" y="282.7" text-anchor="middle">9</text></g>
<g font-size="7.1" fill="#222" stroke="#222" stroke-width="0.18"><text x="214.53" y="292.6" text-anchor="middle">Adv. Category</text><text transform="translate(145.53,216.6) rotate(-90)" text-anchor="middle">Ori. Category</text><text x="214.53" y="156.7" text-anchor="middle" font-size="7.0">AConvNet</text></g>
<g><rect x="291.46" y="160" width="117.6" height="113.2" fill="#46035b"/>
<rect x="362.02" y="160" width="11.76" height="11.32" fill="#fde725"/>
<rect x="303.22" y="171.32" width="11.76" height="11.32" fill="#6dd65a"/>
<rect x="362.02" y="171.32" width="11.76" height="11.32" fill="#4a2a8a"/>
<rect x="303.22" y="182.64" width="11.76" height="11.32" fill="#4a2a8a"/>
<rect x="362.02" y="182.64" width="11.76" height="11.32" fill="#bae22a"/>
<rect x="303.22" y="205.28" width="11.76" height="11.32" fill="#6dd65a"/>
<rect x="362.02" y="205.28" width="11.76" height="11.32" fill="#3f519a"/>
<rect x="303.22" y="216.6" width="11.76" height="11.32" fill="#bae22a"/>
<rect x="303.22" y="227.92" width="11.76" height="11.32" fill="#bae22a"/>
<rect x="303.22" y="239.24" width="11.76" height="11.32" fill="#bae22a"/>
<rect x="303.22" y="261.88" width="11.76" height="11.32" fill="#6dd65a"/>
<rect x="362.02" y="261.88" width="11.76" height="11.32" fill="#3f519a"/></g>
<g stroke="rgba(255,255,255,0.2)" stroke-width="0.75"><line x1="303.22" y1="160" x2="303.22" y2="273.2"/>
<line x1="291.46" y1="171.32" x2="409.06" y2="171.32"/>
<line x1="314.98" y1="160" x2="314.98" y2="273.2"/>
<line x1="291.46" y1="182.64" x2="409.06" y2="182.64"/>
<line x1="326.74" y1="160" x2="326.74" y2="273.2"/>
<line x1="291.46" y1="193.96" x2="409.06" y2="193.96"/>
<line x1="338.5" y1="160" x2="338.5" y2="273.2"/>
<line x1="291.46" y1="205.28" x2="409.06" y2="205.28"/>
<line x1="350.26" y1="160" x2="350.26" y2="273.2"/>
<line x1="291.46" y1="216.6" x2="409.06" y2="216.6"/>
<line x1="362.02" y1="160" x2="362.02" y2="273.2"/>
<line x1="291.46" y1="227.92" x2="409.06" y2="227.92"/>
<line x1="373.78" y1="160" x2="373.78" y2="273.2"/>
<line x1="291.46" y1="239.24" x2="409.06" y2="239.24"/>
<line x1="385.54" y1="160" x2="385.54" y2="273.2"/>
<line x1="291.46" y1="250.56" x2="409.06" y2="250.56"/>
<line x1="397.3" y1="160" x2="397.3" y2="273.2"/>
<line x1="291.46" y1="261.88" x2="409.06" y2="261.88"/></g>
<rect x="291.86" y="160.4" width="116.8" height="112.4" fill="none" stroke="#111" stroke-width="0.8"/>
<g font-size="6.4" text-anchor="middle"><text x="297.34" y="168.34" fill="#fff">0</text><text x="309.1" y="168.34" fill="#fff">2</text><text x="320.86" y="168.34" fill="#fff">0</text><text x="332.62" y="168.34" fill="#fff">0</text><text x="344.38" y="168.34" fill="#fff">0</text><text x="356.14" y="168.34" fill="#fff">0</text><text x="367.9" y="168.34" fill="#222">98</text><text x="379.66" y="168.34" fill="#fff">0</text><text x="391.42" y="168.34" fill="#fff">0</text><text x="403.18" y="168.34" fill="#fff">0</text><text x="297.34" y="179.66" fill="#fff">0</text><text x="309.1" y="179.66" fill="#222">77</text><text x="320.86" y="179.66" fill="#fff">0</text><text x="332.62" y="179.66" fill="#fff">0</text><text x="344.38" y="179.66" fill="#fff">0</text><text x="356.14" y="179.66" fill="#fff">0</text><text x="367.9" y="179.66" fill="#fff">14</text><text x="379.66" y="179.66" fill="#fff">0</text><text x="391.42" y="179.66" fill="#fff">0</text><text x="403.18" y="179.66" fill="#fff">0</text><text x="297.34" y="190.98" fill="#fff">0</text><text x="309.1" y="190.98" fill="#fff">12</text><text x="320.86" y="190.98" fill="#fff">0</text><text x="332.62" y="190.98" fill="#fff">0</text><text x="344.38" y="190.98" fill="#fff">0</text><text x="356.14" y="190.98" fill="#fff">0</text><text x="367.9" y="190.98" fill="#222">88</text><text x="379.66" y="190.98" fill="#fff">0</text><text x="391.42" y="190.98" fill="#fff">0</text><text x="403.18" y="190.98" fill="#fff">0</text><text x="297.34" y="202.3" fill="#fff">0</text><text x="309.1" y="202.3" fill="#fff">9</text><text x="320.86" y="202.3" fill="#fff">0</text><text x="332.62" y="202.3" fill="#fff">0</text><text x="344.38" y="202.3" fill="#fff">0</text><text x="356.14" y="202.3" fill="#fff">0</text><text x="367.9" y="202.3" fill="#fff">0</text><text x="379.66" y="202.3" fill="#fff">0</text><text x="391.42" y="202.3" fill="#fff">0</text><text x="403.18" y="202.3" fill="#fff">0</text><text x="297.34" y="213.62" fill="#fff">0</text><text x="309.1" y="213.62" fill="#222">79</text><text x="320.86" y="213.62" fill="#fff">0</text><text x="332.62" y="213.62" fill="#fff">0</text><text x="344.38" y="213.62" fill="#fff">0</text><text x="356.14" y="213.62" fill="#fff">0</text><text x="367.9" y="213.62" fill="#fff">21</text><text x="379.66" y="213.62" fill="#fff">0</text><text x="391.42" y="213.62" fill="#fff">0</text><text x="403.18" y="213.62" fill="#fff">0</text><text x="297.34" y="224.94" fill="#fff">0</text><text x="309.1" y="224.94" fill="#222">86</text><text x="320.86" y="224.94" fill="#fff">0</text><text x="332.62" y="224.94" fill="#fff">4</text><text x="344.38" y="224.94" fill="#fff">0</text><text x="356.14" y="224.94" fill="#fff">0</text><text x="367.9" y="224.94" fill="#fff">8</text><text x="379.66" y="224.94" fill="#fff">0</text><text x="391.42" y="224.94" fill="#fff">0</text><text x="403.18" y="224.94" fill="#fff">0</text><text x="297.34" y="236.26" fill="#fff">0</text><text x="309.1" y="236.26" fill="#222">89</text><text x="320.86" y="236.26" fill="#fff">0</text><text x="332.62" y="236.26" fill="#fff">0</text><text x="344.38" y="236.26" fill="#fff">0</text><text x="356.14" y="236.26" fill="#fff">0</text><text x="367.9" y="236.26" fill="#fff">1</text><text x="379.66" y="236.26" fill="#fff">0</text><text x="391.42" y="236.26" fill="#fff">0</text><text x="403.18" y="236.26" fill="#fff">0</text><text x="297.34" y="247.58" fill="#fff">0</text><text x="309.1" y="247.58" fill="#222">82</text><text x="320.86" y="247.58" fill="#fff">0</text><text x="332.62" y="247.58" fill="#fff">0</text><text x="344.38" y="247.58" fill="#fff">0</text><text x="356.14" y="247.58" fill="#fff">0</text><text x="367.9" y="247.58" fill="#fff">0</text><text x="379.66" y="247.58" fill="#fff">0</text><text x="391.42" y="247.58" fill="#fff">0</text><text x="403.18" y="247.58" fill="#fff">0</text><text x="297.34" y="258.9" fill="#fff">0</text><text x="309.1" y="258.9" fill="#fff">0</text><text x="320.86" y="258.9" fill="#fff">0</text><text x="332.62" y="258.9" fill="#fff">0</text><text x="344.38" y="258.9" fill="#fff">0</text><text x="356.14" y="258.9" fill="#fff">0</text><text x="367.9" y="258.9" fill="#fff">0</text><text x="379.66" y="258.9" fill="#fff">0</text><text x="391.42" y="258.9" fill="#fff">0</text><text x="403.18" y="258.9" fill="#fff">0</text><text x="297.34" y="270.22" fill="#fff">0</text><text x="309.1" y="270.22" fill="#222">73</text><text x="320.86" y="270.22" fill="#fff">0</text><text x="332.62" y="270.22" fill="#fff">2</text><text x="344.38" y="270.22" fill="#fff">0</text><text x="356.14" y="270.22" fill="#fff">0</text><text x="367.9" y="270.22" fill="#fff">25</text><text x="379.66" y="270.22" fill="#fff">0</text><text x="391.42" y="270.22" fill="#fff">0</text><text x="403.18" y="270.22" fill="#fff">0</text></g>
<g stroke="#333" stroke-width="0.75"><line x1="288.96" y1="165.66" x2="291.46" y2="165.66"/><line x1="297.34" y1="273.2" x2="297.34" y2="275.7"/><line x1="288.96" y1="176.98" x2="291.46" y2="176.98"/><line x1="309.1" y1="273.2" x2="309.1" y2="275.7"/><line x1="288.96" y1="188.3" x2="291.46" y2="188.3"/><line x1="320.86" y1="273.2" x2="320.86" y2="275.7"/><line x1="288.96" y1="199.62" x2="291.46" y2="199.62"/><line x1="332.62" y1="273.2" x2="332.62" y2="275.7"/><line x1="288.96" y1="210.94" x2="291.46" y2="210.94"/><line x1="344.38" y1="273.2" x2="344.38" y2="275.7"/><line x1="288.96" y1="222.26" x2="291.46" y2="222.26"/><line x1="356.14" y1="273.2" x2="356.14" y2="275.7"/><line x1="288.96" y1="233.58" x2="291.46" y2="233.58"/><line x1="367.9" y1="273.2" x2="367.9" y2="275.7"/><line x1="288.96" y1="244.9" x2="291.46" y2="244.9"/><line x1="379.66" y1="273.2" x2="379.66" y2="275.7"/><line x1="288.96" y1="256.22" x2="291.46" y2="256.22"/><line x1="391.42" y1="273.2" x2="391.42" y2="275.7"/><line x1="288.96" y1="267.54" x2="291.46" y2="267.54"/><line x1="403.18" y1="273.2" x2="403.18" y2="275.7"/></g>
<g font-size="7.1" fill="#2a2a2a" stroke="#2a2a2a" stroke-width="0.06"><text x="287.86" y="168" text-anchor="end">9</text><text x="297.34" y="282.7" text-anchor="middle">0</text><text x="287.86" y="179.32" text-anchor="end">8</text><text x="309.1" y="282.7" text-anchor="middle">1</text><text x="287.86" y="190.64" text-anchor="end">7</text><text x="320.86" y="282.7" text-anchor="middle">2</text><text x="287.86" y="201.96" text-anchor="end">6</text><text x="332.62" y="282.7" text-anchor="middle">3</text><text x="287.86" y="213.28" text-anchor="end">5</text><text x="344.38" y="282.7" text-anchor="middle">4</text><text x="287.86" y="224.6" text-anchor="end">4</text><text x="356.14" y="282.7" text-anchor="middle">5</text><text x="287.86" y="235.92" text-anchor="end">3</text><text x="367.9" y="282.7" text-anchor="middle">6</text><text x="287.86" y="247.24" text-anchor="end">2</text><text x="379.66" y="282.7" text-anchor="middle">7</text><text x="287.86" y="258.56" text-anchor="end">1</text><text x="391.42" y="282.7" text-anchor="middle">8</text><text x="287.86" y="269.88" text-anchor="end">0</text><text x="403.18" y="282.7" text-anchor="middle">9</text></g>
<g font-size="7.1" fill="#222" stroke="#222" stroke-width="0.18"><text x="350.26" y="292.6" text-anchor="middle">Adv. Category</text><text transform="translate(281.26,216.6) rotate(-90)" text-anchor="middle">Ori. Category</text><text x="350.26" y="156.7" text-anchor="middle" font-size="7.0">ShuffleNetV2</text></g>
<g><rect x="427.2" y="160" width="117.6" height="113.2" fill="#46035b"/>
<rect x="509.52" y="160" width="11.76" height="11.32" fill="#4a2a8a"/>
<rect x="509.52" y="171.32" width="11.76" height="11.32" fill="#3f519a"/>
<rect x="533.04" y="171.32" width="11.76" height="11.32" fill="#4a2a8a"/>
<rect x="497.76" y="182.64" width="11.76" height="11.32" fill="#1eae95"/>
<rect x="509.52" y="205.28" width="11.76" height="11.32" fill="#3f519a"/>
<rect x="533.04" y="205.28" width="11.76" height="11.32" fill="#1eae95"/>
<rect x="438.96" y="216.6" width="11.76" height="11.32" fill="#34c27d"/>
<rect x="462.48" y="216.6" width="11.76" height="11.32" fill="#4a2a8a"/>
<rect x="497.76" y="216.6" width="11.76" height="11.32" fill="#4a2a8a"/>
<rect x="438.96" y="227.92" width="11.76" height="11.32" fill="#4a2a8a"/>
<rect x="438.96" y="239.24" width="11.76" height="11.32" fill="#4a2a8a"/>
<rect x="462.48" y="239.24" width="11.76" height="11.32" fill="#4a2a8a"/>
<rect x="438.96" y="261.88" width="11.76" height="11.32" fill="#1eae95"/>
<rect x="497.76" y="261.88" width="11.76" height="11.32" fill="#4a2a8a"/>
<rect x="509.52" y="261.88" width="11.76" height="11.32" fill="#4a2a8a"/></g>
<g stroke="rgba(255,255,255,0.2)" stroke-width="0.75"><line x1="438.96" y1="160" x2="438.96" y2="273.2"/>
<line x1="427.2" y1="171.32" x2="544.8" y2="171.32"/>
<line x1="450.72" y1="160" x2="450.72" y2="273.2"/>
<line x1="427.2" y1="182.64" x2="544.8" y2="182.64"/>
<line x1="462.48" y1="160" x2="462.48" y2="273.2"/>
<line x1="427.2" y1="193.96" x2="544.8" y2="193.96"/>
<line x1="474.24" y1="160" x2="474.24" y2="273.2"/>
<line x1="427.2" y1="205.28" x2="544.8" y2="205.28"/>
<line x1="486" y1="160" x2="486" y2="273.2"/>
<line x1="427.2" y1="216.6" x2="544.8" y2="216.6"/>
<line x1="497.76" y1="160" x2="497.76" y2="273.2"/>
<line x1="427.2" y1="227.92" x2="544.8" y2="227.92"/>
<line x1="509.52" y1="160" x2="509.52" y2="273.2"/>
<line x1="427.2" y1="239.24" x2="544.8" y2="239.24"/>
<line x1="521.28" y1="160" x2="521.28" y2="273.2"/>
<line x1="427.2" y1="250.56" x2="544.8" y2="250.56"/>
<line x1="533.04" y1="160" x2="533.04" y2="273.2"/>
<line x1="427.2" y1="261.88" x2="544.8" y2="261.88"/></g>
<rect x="427.6" y="160.4" width="116.8" height="112.4" fill="none" stroke="#111" stroke-width="0.8"/>
<g font-size="6.4" text-anchor="middle"><text x="433.08" y="168.34" fill="#fff">0</text><text x="444.84" y="168.34" fill="#fff">0</text><text x="456.6" y="168.34" fill="#fff">0</text><text x="468.36" y="168.34" fill="#fff">0</text><text x="480.12" y="168.34" fill="#fff">0</text><text x="491.88" y="168.34" fill="#fff">0</text><text x="503.64" y="168.34" fill="#fff">8</text><text x="515.4" y="168.34" fill="#fff">10</text><text x="527.16" y="168.34" fill="#fff">0</text><text x="538.92" y="168.34" fill="#fff">0</text><text x="433.08" y="179.66" fill="#fff">0</text><text x="444.84" y="179.66" fill="#fff">0</text><text x="456.6" y="179.66" fill="#fff">0</text><text x="468.36" y="179.66" fill="#fff">0</text><text x="480.12" y="179.66" fill="#fff">0</text><text x="491.88" y="179.66" fill="#fff">0</text><text x="503.64" y="179.66" fill="#fff">7</text><text x="515.4" y="179.66" fill="#fff">27</text><text x="527.16" y="179.66" fill="#fff">0</text><text x="538.92" y="179.66" fill="#fff">15</text><text x="433.08" y="190.98" fill="#fff">0</text><text x="444.84" y="190.98" fill="#fff">0</text><text x="456.6" y="190.98" fill="#fff">0</text><text x="468.36" y="190.98" fill="#fff">0</text><text x="480.12" y="190.98" fill="#fff">0</text><text x="491.88" y="190.98" fill="#fff">0</text><text x="503.64" y="190.98" fill="#fff">50</text><text x="515.4" y="190.98" fill="#fff">0</text><text x="527.16" y="190.98" fill="#fff">1</text><text x="538.92" y="190.98" fill="#fff">0</text><text x="433.08" y="202.3" fill="#fff">0</text><text x="444.84" y="202.3" fill="#fff">0</text><text x="456.6" y="202.3" fill="#fff">0</text><text x="468.36" y="202.3" fill="#fff">0</text><text x="480.12" y="202.3" fill="#fff">0</text><text x="491.88" y="202.3" fill="#fff">0</text><text x="503.64" y="202.3" fill="#fff">0</text><text x="515.4" y="202.3" fill="#fff">0</text><text x="527.16" y="202.3" fill="#fff">0</text><text x="538.92" y="202.3" fill="#fff">0</text><text x="433.08" y="213.62" fill="#fff">0</text><text x="444.84" y="213.62" fill="#fff">0</text><text x="456.6" y="213.62" fill="#fff">0</text><text x="468.36" y="213.62" fill="#fff">0</text><text x="480.12" y="213.62" fill="#fff">0</text><text x="491.88" y="213.62" fill="#fff">0</text><text x="503.64" y="213.62" fill="#fff">0</text><text x="515.4" y="213.62" fill="#fff">24</text><text x="527.16" y="213.62" fill="#fff">4</text><text x="538.92" y="213.62" fill="#fff">55</text><text x="433.08" y="224.94" fill="#fff">0</text><text x="444.84" y="224.94" fill="#222">60</text><text x="456.6" y="224.94" fill="#fff">0</text><text x="468.36" y="224.94" fill="#fff">17</text><text x="480.12" y="224.94" fill="#fff">0</text><text x="491.88" y="224.94" fill="#fff">0</text><text x="503.64" y="224.94" fill="#fff">10</text><text x="515.4" y="224.94" fill="#fff">3</text><text x="527.16" y="224.94" fill="#fff">0</text><text x="538.92" y="224.94" fill="#fff">0</text><text x="433.08" y="236.26" fill="#fff">0</text><text x="444.84" y="236.26" fill="#fff">13</text><text x="456.6" y="236.26" fill="#fff">0</text><text x="468.36" y="236.26" fill="#fff">0</text><text x="480.12" y="236.26" fill="#fff">0</text><text x="491.88" y="236.26" fill="#fff">0</text><text x="503.64" y="236.26" fill="#fff">1</text><text x="515.4" y="236.26" fill="#fff">0</text><text x="527.16" y="236.26" fill="#fff">0</text><text x="538.92" y="236.26" fill="#fff">0</text><text x="433.08" y="247.58" fill="#fff">0</text><text x="444.84" y="247.58" fill="#fff">13</text><text x="456.6" y="247.58" fill="#fff">0</text><text x="468.36" y="247.58" fill="#fff">14</text><text x="480.12" y="247.58" fill="#fff">0</text><text x="491.88" y="247.58" fill="#fff">0</text><text x="503.64" y="247.58" fill="#fff">1</text><text x="515.4" y="247.58" fill="#fff">0</text><text x="527.16" y="247.58" fill="#fff">0</text><text x="538.92" y="247.58" fill="#fff">0</text><text x="433.08" y="258.9" fill="#fff">0</text><text x="444.84" y="258.9" fill="#fff">0</text><text x="456.6" y="258.9" fill="#fff">0</text><text x="468.36" y="258.9" fill="#fff">0</text><text x="480.12" y="258.9" fill="#fff">0</text><text x="491.88" y="258.9" fill="#fff">0</text><text x="503.64" y="258.9" fill="#fff">9</text><text x="515.4" y="258.9" fill="#fff">0</text><text x="527.16" y="258.9" fill="#fff">0</text><text x="538.92" y="258.9" fill="#fff">0</text><text x="433.08" y="270.22" fill="#fff">0</text><text x="444.84" y="270.22" fill="#fff">52</text><text x="456.6" y="270.22" fill="#fff">0</text><text x="468.36" y="270.22" fill="#fff">0</text><text x="480.12" y="270.22" fill="#fff">1</text><text x="491.88" y="270.22" fill="#fff">0</text><text x="503.64" y="270.22" fill="#fff">16</text><text x="515.4" y="270.22" fill="#fff">13</text><text x="527.16" y="270.22" fill="#fff">0</text><text x="538.92" y="270.22" fill="#fff">0</text></g>
<g stroke="#333" stroke-width="0.75"><line x1="424.7" y1="165.66" x2="427.2" y2="165.66"/><line x1="433.08" y1="273.2" x2="433.08" y2="275.7"/><line x1="424.7" y1="176.98" x2="427.2" y2="176.98"/><line x1="444.84" y1="273.2" x2="444.84" y2="275.7"/><line x1="424.7" y1="188.3" x2="427.2" y2="188.3"/><line x1="456.6" y1="273.2" x2="456.6" y2="275.7"/><line x1="424.7" y1="199.62" x2="427.2" y2="199.62"/><line x1="468.36" y1="273.2" x2="468.36" y2="275.7"/><line x1="424.7" y1="210.94" x2="427.2" y2="210.94"/><line x1="480.12" y1="273.2" x2="480.12" y2="275.7"/><line x1="424.7" y1="222.26" x2="427.2" y2="222.26"/><line x1="491.88" y1="273.2" x2="491.88" y2="275.7"/><line x1="424.7" y1="233.58" x2="427.2" y2="233.58"/><line x1="503.64" y1="273.2" x2="503.64" y2="275.7"/><line x1="424.7" y1="244.9" x2="427.2" y2="244.9"/><line x1="515.4" y1="273.2" x2="515.4" y2="275.7"/><line x1="424.7" y1="256.22" x2="427.2" y2="256.22"/><line x1="527.16" y1="273.2" x2="527.16" y2="275.7"/><line x1="424.7" y1="267.54" x2="427.2" y2="267.54"/><line x1="538.92" y1="273.2" x2="538.92" y2="275.7"/></g>
<g font-size="7.1" fill="#2a2a2a" stroke="#2a2a2a" stroke-width="0.06"><text x="423.6" y="168" text-anchor="end">9</text><text x="433.08" y="282.7" text-anchor="middle">0</text><text x="423.6" y="179.32" text-anchor="end">8</text><text x="444.84" y="282.7" text-anchor="middle">1</text><text x="423.6" y="190.64" text-anchor="end">7</text><text x="456.6" y="282.7" text-anchor="middle">2</text><text x="423.6" y="201.96" text-anchor="end">6</text><text x="468.36" y="282.7" text-anchor="middle">3</text><text x="423.6" y="213.28" text-anchor="end">5</text><text x="480.12" y="282.7" text-anchor="middle">4</text><text x="423.6" y="224.6" text-anchor="end">4</text><text x="491.88" y="282.7" text-anchor="middle">5</text><text x="423.6" y="235.92" text-anchor="end">3</text><text x="503.64" y="282.7" text-anchor="middle">6</text><text x="423.6" y="247.24" text-anchor="end">2</text><text x="515.4" y="282.7" text-anchor="middle">7</text><text x="423.6" y="258.56" text-anchor="end">1</text><text x="527.16" y="282.7" text-anchor="middle">8</text><text x="423.6" y="269.88" text-anchor="end">0</text><text x="538.92" y="282.7" text-anchor="middle">9</text></g>
<g font-size="7.1" fill="#222" stroke="#222" stroke-width="0.18"><text x="486" y="292.6" text-anchor="middle">Adv. Category</text><text transform="translate(417,216.6) rotate(-90)" text-anchor="middle">Ori. Category</text><text x="486" y="156.7" text-anchor="middle" font-size="7.0">SqueezeNet</text></g>
</svg>
</body></html>
